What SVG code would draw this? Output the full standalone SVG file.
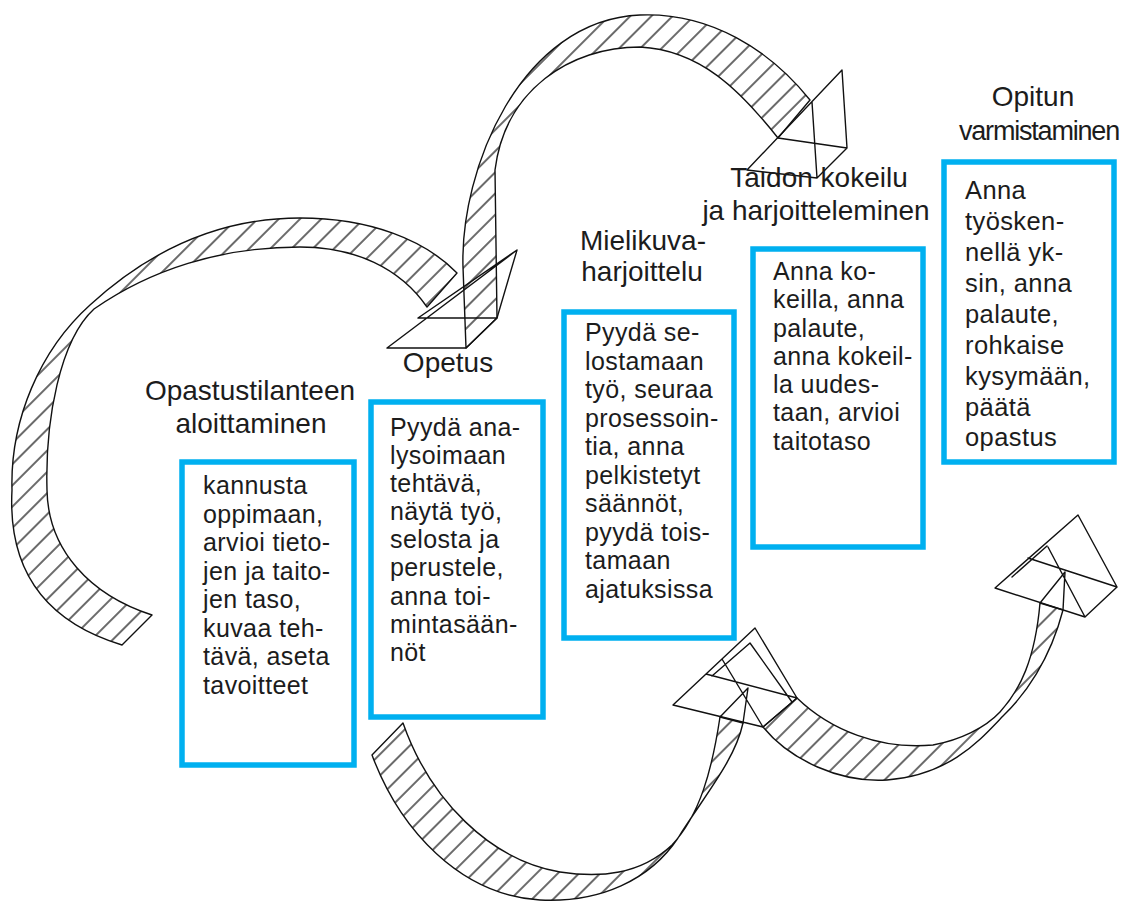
<svg xmlns="http://www.w3.org/2000/svg" width="1122" height="901" viewBox="0 0 1122 901">
  <defs>
    <!-- diagonal hatching used inside the ribbon arrows -->
    <pattern id="hatch" patternUnits="userSpaceOnUse" width="15" height="15" patternTransform="rotate(45)">
      <line x1="7" y1="-1" x2="7" y2="16" stroke="#111" stroke-width="1.25"/>
    </pattern>
  </defs>
  <style>
    .band{fill:url(#hatch);stroke:#111;stroke-width:1.4;stroke-linejoin:round}
    .head{fill:none;stroke:#111;stroke-width:1.4;stroke-linejoin:round;stroke-linecap:round}
    .box{fill:#fff;stroke:#00b0f0;stroke-width:5.5}
    .title{font-family:"Liberation Sans",Arial,sans-serif;font-size:28px;fill:#1c1c1c;text-anchor:middle}
    .title.tight{font-size:27px;letter-spacing:-1.2px;text-anchor:start}
    .body{font-family:"Liberation Sans",Arial,sans-serif;font-size:25px;letter-spacing:0.4px;fill:#1c1c1c}
    .body.big{font-size:25.5px}
  </style>
  <rect width="1122" height="901" fill="#fff"/>

  <!-- ribbon arrows linking the phases -->
  <g id="connectors">
    <path class="band" d="M122,645 C40,620 8,565 12,490 C10,420 40,350 90,305 C150,250 220,218 300,218 C370,218 425,240 457,273 L427,307 C400,268 355,247 300,247 C220,247 150,270 94,309 C60,340 45,420 47,490 C48,550 90,595 152,615 Z"/>
    <path class="band" d="M466,348 L463,267 C460,170 520,20 640,15 C710,12 770,50 810,100 L778,138 C740,90 700,50 640,47 C570,47 505,90 495,170 L497,318 Z"/>
    <path class="band" d="M372,755 C400,830 460,895 540,900 C600,903 650,880 678,838 C705,795 735,760 743,723 L720,717 C712,770 700,815 672,845 C640,875 600,878 560,872 C490,860 430,800 403,723 Z"/>
    <path class="band" d="M797,698 C830,730 880,750 933,745 C960,740 985,728 1000,712 C1020,690 1035,660 1040,603 L1063,610 C1050,660 1025,695 1003,716 C980,740 950,775 887,780 C840,783 790,760 763,727 Z"/>

    <!-- arrowheads -->
    <path class="head" d="M387,348 L466,348 L497,318 L517,250 Z M418,318 L497,318 M418,318 L517,250"/>
    <path class="head" d="M747,170 L842,70 L847,148 L817,178 Z M778,138 L847,148 M812,102 L817,178"/>
    <path class="head" d="M673,705 L755,628 L797,698 L763,727 Z M706,674 L797,698 M722,659 L763,727 M712,676 L750,643 L792,702 M743,723 L748,688 M720,717 L748,688"/>
    <path class="head" d="M995,588 L1078,515 L1117,587 L1085,617 Z M1028,558 L1117,587 M1048,547 L1085,617 M1012,577 L1047,546 M1063,610 L1065,572 M1040,603 L1065,572"/>
  </g>

  <g id="node-aloittaminen">
    <rect class="box" x="182" y="462" width="172" height="303"/>
    <text class="title"><tspan x="250" y="400">Opastustilanteen</tspan><tspan x="251" y="433">aloittaminen</tspan></text>
    <text class="body">
      <tspan x="203" y="494">kannusta</tspan>
      <tspan x="203" y="522.5">oppimaan,</tspan>
      <tspan x="203" y="551">arvioi tieto-</tspan>
      <tspan x="203" y="579.5">jen ja taito-</tspan>
      <tspan x="203" y="608">jen taso,</tspan>
      <tspan x="203" y="636.5">kuvaa teh-</tspan>
      <tspan x="203" y="665">tävä, aseta</tspan>
      <tspan x="203" y="693.5">tavoitteet</tspan>
    </text>
  </g>

  <g id="node-opetus">
    <rect class="box" x="371" y="402" width="172" height="315"/>
    <text class="title"><tspan x="448" y="372">Opetus</tspan></text>
    <text class="body">
      <tspan x="390" y="436">Pyydä ana-</tspan>
      <tspan x="390" y="464">lysoimaan</tspan>
      <tspan x="390" y="492">tehtävä,</tspan>
      <tspan x="390" y="520">näytä työ,</tspan>
      <tspan x="390" y="548">selosta ja</tspan>
      <tspan x="390" y="576">perustele,</tspan>
      <tspan x="390" y="605">anna toi-</tspan>
      <tspan x="390" y="633">mintasään-</tspan>
      <tspan x="390" y="661">nöt</tspan>
    </text>
  </g>

  <g id="node-mielikuva">
    <rect class="box" x="564" y="312" width="170" height="326"/>
    <text class="title"><tspan x="643" y="250">Mielikuva-</tspan><tspan x="642" y="281">harjoittelu</tspan></text>
    <text class="body">
      <tspan x="585" y="341">Pyydä se-</tspan>
      <tspan x="585" y="369.5">lostamaan</tspan>
      <tspan x="585" y="398">työ, seuraa</tspan>
      <tspan x="585" y="426.5">prosessoin-</tspan>
      <tspan x="585" y="455">tia, anna</tspan>
      <tspan x="585" y="483.5">pelkistetyt</tspan>
      <tspan x="585" y="512">säännöt,</tspan>
      <tspan x="585" y="540.5">pyydä tois-</tspan>
      <tspan x="585" y="569">tamaan</tspan>
      <tspan x="585" y="597.5">ajatuksissa</tspan>
    </text>
  </g>

  <g id="node-kokeilu">
    <rect class="box" x="753" y="249" width="170" height="298"/>
    <text class="title"><tspan x="819" y="187">Taidon kokeilu</tspan><tspan x="816" y="220">ja harjoitteleminen</tspan></text>
    <text class="body">
      <tspan x="773" y="280">Anna ko-</tspan>
      <tspan x="773" y="308">keilla, anna</tspan>
      <tspan x="773" y="337">palaute,</tspan>
      <tspan x="773" y="365">anna kokeil-</tspan>
      <tspan x="773" y="393">la uudes-</tspan>
      <tspan x="773" y="421">taan, arvioi</tspan>
      <tspan x="773" y="450">taitotaso</tspan>
    </text>
  </g>

  <g id="node-varmistaminen">
    <rect class="box" x="944" y="162" width="170" height="300"/>
    <text class="title"><tspan x="1033" y="106">Opitun</tspan></text>
    <text class="title tight" x="959" y="140">varmistaminen</text>
    <text class="body big">
      <tspan x="965" y="199">Anna</tspan>
      <tspan x="965" y="230">työsken-</tspan>
      <tspan x="965" y="261">nellä yk-</tspan>
      <tspan x="965" y="292">sin, anna</tspan>
      <tspan x="965" y="323">palaute,</tspan>
      <tspan x="965" y="354">rohkaise</tspan>
      <tspan x="965" y="385">kysymään,</tspan>
      <tspan x="965" y="416">päätä</tspan>
      <tspan x="965" y="446">opastus</tspan>
    </text>
  </g>
</svg>
